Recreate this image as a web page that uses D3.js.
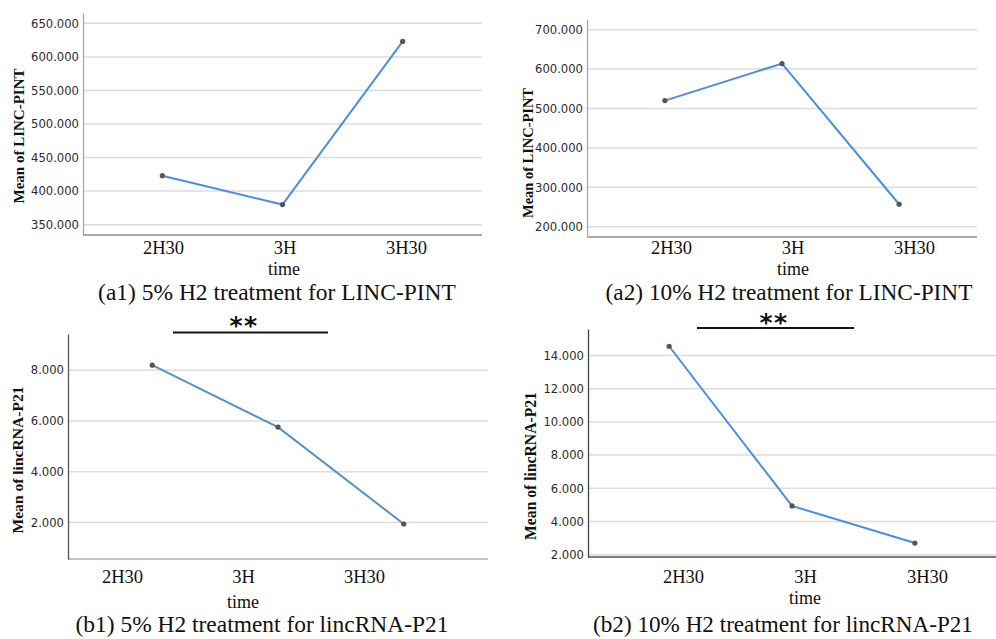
<!DOCTYPE html>
<html>
<head>
<meta charset="utf-8">
<script src="https://cdn.jsdelivr.net/npm/d3@7"></script>
<style>
  body { margin: 0; background: #fff; }
  svg { display: block; }
</style>
</head>
<body>
<svg id="chart" width="996" height="639"></svg>
<script>
// ---- data -------------------------------------------------------------
const timeLabels = ["2H30", "3H", "3H30"];

const pintH2_5  = [423, 380, 623];      // mean LINC-PINT, 5% H2
const pintH2_10 = [520, 614, 257];      // mean LINC-PINT, 10% H2
const p21H2_5   = [8.2, 5.76, 1.94];    // mean lincRNA-P21, 5% H2
const p21H2_10  = [14.56, 4.94, 2.7];   // mean lincRNA-P21, 10% H2

const pint5Ticks  = [350, 400, 450, 500, 550, 600, 650];
const pint10Ticks = [200, 300, 400, 500, 600, 700];
const p21_5Ticks  = [2, 4, 6, 8];
const p21_10Ticks = [2, 4, 6, 8, 10, 12, 14];

const yTitles  = ["Mean of LINC-PINT", "Mean of LINC-PINT", "Mean of lincRNA-P21", "Mean of lincRNA-P21"];
const captions = [
  "(a1) 5% H2 treatment for LINC-PINT",
  "(a2) 10% H2 treatment for LINC-PINT",
  "(b1) 5% H2 treatment for lincRNA-P21",
  "(b2) 10% H2 treatment for lincRNA-P21"
];
const xTitle = "time";
const sigLabel = "**";

// ---- layout of the four panels ----------------------------------------
const panels = [
  { values: pintH2_5, ticks: pint5Ticks, domain: [334.6, 665.4], yTitle: yTitles[0], caption: captions[0],
    left: 83, right: 482, top: 13, bottom: 235, pad: 0.66,
    labelRange: [163, 406], labelTop: 241, timeX: 284, timeY: 275,
    capX: 277, capY: 300, capW: 358, titleX: 19, titleY: 136, titleW: 135,
    lineColor: "#4a8ee3", axisColor: "#a8a8a8", baseColor: "#8c8c8c", sig: null },
  { values: pintH2_10, ticks: pint10Ticks, domain: [173.9, 727], yTitle: yTitles[1], caption: captions[1],
    left: 587, right: 977, top: 19, bottom: 237, pad: 0.665,
    labelRange: [671, 914], labelTop: 241, timeX: 793, timeY: 275,
    capX: 789, capY: 300, capW: 367, titleX: 528, titleY: 153, titleW: 130,
    lineColor: "#4a8ee3", axisColor: "#a8a8a8", baseColor: "#8c8c8c", sig: null },
  { values: p21H2_5, ticks: p21_5Ticks, domain: [0.56, 9.43], yTitle: yTitles[2], caption: captions[2],
    left: 68, right: 488, top: 334, bottom: 559, pad: 0.67,
    labelRange: [122, 364], labelTop: 570, timeX: 243, timeY: 608,
    capX: 262, capY: 632, capW: 373, titleX: 18, titleY: 460, titleW: 147,
    lineColor: "#5b8fc8", axisColor: "#555555", baseColor: "#b0b0b0",
    sig: { x0: 173, x1: 328, y: 332.5, tx: 244, ty: 334 } },
  { values: p21H2_10, ticks: p21_10Ticks, domain: [1.86, 15.6], yTitle: yTitles[3], caption: captions[3],
    left: 588, right: 996, top: 329, bottom: 557, pad: 0.66,
    labelRange: [683, 927], labelTop: 570, timeX: 805, timeY: 604,
    capX: 783, capY: 632, capW: 380, titleX: 530, titleY: 466, titleW: 148,
    lineColor: "#4a8ee3", axisColor: "#444444", baseColor: "#555555",
    sig: { x0: 697, x1: 854, y: 328, tx: 774, ty: 331 } }
];

const svg = d3.select("#chart");
const fmt = d3.format(".3f");
const serif = "'Liberation Serif', 'Times New Roman', serif";
const sans = "'DejaVu Sans', Verdana, sans-serif";

// scale a text element's font so its width equals the given width
function fitWidth(sel, base, width) {
  sel.attr("font-size", base);
  const w = sel.node().getComputedTextLength();
  sel.attr("font-size", (base * width / w).toFixed(2));
}

panels.forEach(p => {
  const g = svg.append("g");

  const x = d3.scalePoint().domain(timeLabels).range([p.left, p.right]).padding(p.pad);
  const xl = d3.scalePoint().domain(timeLabels).range(p.labelRange);
  const y = d3.scaleLinear().domain(p.domain).range([p.bottom, p.top]);

  // horizontal gridlines
  g.append("g").selectAll("line").data(p.ticks).join("line")
    .attr("x1", p.left).attr("x2", p.right)
    .attr("y1", d => y(d)).attr("y2", d => y(d))
    .attr("stroke", "#dcdcdc").attr("stroke-width", 1.5);

  // baseline of the plot area
  g.append("line")
    .attr("x1", p.left).attr("x2", p.right)
    .attr("y1", p.bottom).attr("y2", p.bottom)
    .attr("stroke", p.baseColor).attr("stroke-width", 1.3);

  // y axis
  const ya = g.append("g").attr("transform", `translate(${p.left},0)`)
    .call(d3.axisLeft(y).tickValues(p.ticks).tickFormat(fmt).tickSize(0).tickSizeOuter(0).tickPadding(4));
  ya.select(".domain").attr("stroke", p.axisColor).attr("stroke-width", 1.3);
  ya.selectAll("text").attr("font-family", sans).attr("font-size", 11.6).attr("fill", "#2a2a2a");

  // x labels
  const xa = g.append("g").attr("transform", `translate(0,${p.labelTop})`)
    .call(d3.axisBottom(xl).tickSize(0).tickPadding(0));
  xa.select(".domain").remove();
  xa.selectAll("text").attr("font-family", serif).attr("font-size", 18.5).attr("fill", "#111");

  // x title
  g.append("text").attr("x", p.timeX).attr("y", p.timeY)
    .attr("text-anchor", "middle").attr("font-family", serif).attr("font-size", 18)
    .attr("fill", "#111").text(xTitle);

  // y title
  const yt = g.append("text")
    .attr("transform", `translate(${p.titleX},${p.titleY}) rotate(-90)`)
    .attr("text-anchor", "middle").attr("dy", "0.35em")
    .attr("font-family", serif).attr("font-weight", "bold").attr("fill", "#111")
    .text(p.yTitle);
  fitWidth(yt, 15, p.titleW);

  // mean line with points
  const line = d3.line().x((d, i) => x(timeLabels[i])).y(d => y(d));
  g.append("path").datum(p.values)
    .attr("d", line).attr("fill", "none")
    .attr("stroke", p.lineColor).attr("stroke-width", 2);
  g.append("g").selectAll("circle").data(p.values).join("circle")
    .attr("cx", (d, i) => x(timeLabels[i])).attr("cy", d => y(d))
    .attr("r", 2.6).attr("fill", "#555");

  // significance bar
  if (p.sig) {
    g.append("line")
      .attr("x1", p.sig.x0).attr("x2", p.sig.x1)
      .attr("y1", p.sig.y).attr("y2", p.sig.y)
      .attr("stroke", "#111").attr("stroke-width", 2);
    g.append("text").attr("x", p.sig.tx).attr("y", p.sig.ty)
      .attr("text-anchor", "middle").attr("font-family", sans).attr("font-weight", "bold")
      .attr("font-size", 25).attr("letter-spacing", 1.5).attr("fill", "#111").text(sigLabel);
  }

  // caption
  const cap = g.append("text").attr("x", p.capX).attr("y", p.capY)
    .attr("text-anchor", "middle").attr("font-family", serif).attr("fill", "#111")
    .text(p.caption);
  fitWidth(cap, 20, p.capW);
});
</script>
</body>
</html>
